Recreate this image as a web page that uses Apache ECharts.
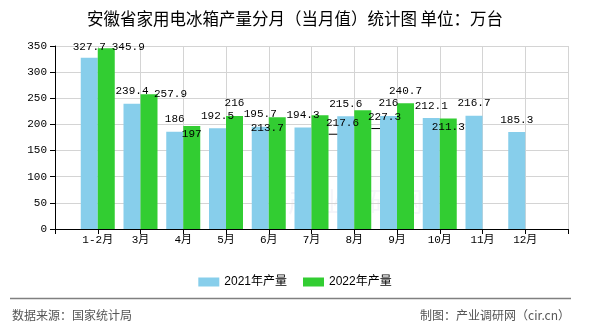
<!DOCTYPE html>
<html><head><meta charset="utf-8">
<script src="https://cdn.jsdelivr.net/npm/echarts@6/dist/echarts.min.js"></script>
<style>html,body{margin:0;padding:0;background:#fff}#c{width:590px;height:330px}</style>
</head><body><div id="c"></div>
<script>
// ---- data ----
const categories = ['', '1-2月', '3月', '4月', '5月', '6月', '7月', '8月', '9月', '10月', '11月', '12月', ''];
const values2021 = [null, 327.7, 239.4, 186, 192.5, 195.7, 194.3, 215.6, 216, 212.1, 216.7, 185.3, null];
const values2022 = [null, 345.9, 257.9, 197, 216, 213.7, 217.6, 227.3, 240.7, 211.3, null, null, null];
const seriesNames = ['2021年产量', '2022年产量'];
const yMin = 0, yMax = 350, yInterval = 50;
const titleText = '安徽省家用电冰箱产量分月（当月值）统计图 单位：万台';
const sourceText = '数据来源：国家统计局';
const creditText = '制图：产业调研网（cir.cn）';

// ---- label placement styles (pixel offsets from default "top" position) ----
const labelOffsets2021 = {1: [0, 2.4]};
const labelOffsets2022 = {1: [22, 11.6], 2: [21.5, 12.2], 3: [0, 20.7], 5: [-10, 23.4], 6: [22.5, 20.5], 7: [21.75, 19.9], 9: [0, 20.6]};
const guideLines2022 = {5: true, 6: true, 7: true};

const monoFont = "'Liberation Mono','Noto Sans CJK SC',monospace";
const cjkFont = "'Noto Sans CJK SC','Liberation Sans',sans-serif";

function buildData(values, offsets, guides) {
  return values.map((v, i) => {
    const item = {value: v};
    if (offsets && offsets[i]) item.label = {offset: offsets[i]};
    if (guides && guides[i]) item.labelLine = {show: true};
    return item;
  });
}

const chart = echarts.init(document.getElementById('c'), null, {renderer: 'canvas'});
const labelBase = {show: true, position: 'top', distance: 7, color: '#000', fontSize: 11, fontFamily: monoFont};

chart.setOption({
  animation: false,
  backgroundColor: '#fff',
  title: {
    text: titleText, left: 'center', top: 5,
    textStyle: {fontSize: 16.5, fontWeight: 'normal', color: '#000', fontFamily: cjkFont}
  },
  legend: {
    data: seriesNames, left: 'center', top: 271, icon: 'rect',
    itemWidth: 21, itemHeight: 9, itemGap: 16,
    textStyle: {fontSize: 12, color: '#000', fontFamily: "'Liberation Sans','Noto Sans CJK SC',sans-serif"}
  },
  grid: {left: 55, right: 22, top: 46, bottom: 101, containLabel: false},
  xAxis: {
    type: 'category', data: categories, boundaryGap: false,
    axisLine: {lineStyle: {color: '#000', width: 1}},
    axisTick: {show: true, length: 5, interval: 0, lineStyle: {color: '#000'}},
    axisLabel: {interval: 0, margin: 6, color: '#000', fontSize: 11, fontFamily: monoFont},
    splitLine: {show: true, interval: 0, lineStyle: {color: '#d4d4d4', width: 1}}
  },
  yAxis: {
    type: 'value', min: yMin, max: yMax, interval: yInterval,
    axisLine: {show: true, lineStyle: {color: '#000', width: 1}},
    axisTick: {show: true, length: 5, lineStyle: {color: '#000'}},
    axisLabel: {margin: 8, color: '#000', fontSize: 11, fontFamily: monoFont},
    splitLine: {show: true, lineStyle: {color: '#d4d4d4', width: 1}}
  },
  series: [
    {
      name: seriesNames[0], type: 'bar', barWidth: 17, barGap: '0%',
      itemStyle: {color: '#87CEEB'},
      label: labelBase,
      data: buildData(values2021, labelOffsets2021, null)
    },
    {
      name: seriesNames[1], type: 'bar', barWidth: 17, barGap: '0%',
      itemStyle: {color: '#32CD32'},
      label: labelBase,
      labelLine: {show: false, length2: 0, lineStyle: {color: '#000', width: 1}},
      data: buildData(values2022, labelOffsets2022, guideLines2022)
    }
  ],
  graphic: [
    {type: 'text', left: 288, top: 188, silent: true, z: -1,
     style: {text: '产业调研网', fontSize: 27, fontFamily: cjkFont, fill: 'rgba(200,200,225,0.18)'}},
    {type: 'line', shape: {x1: 10, y1: 298.5, x2: 571, y2: 298.5},
     style: {stroke: '#808080', lineWidth: 1.5}},
    {type: 'text', left: 12, top: 309,
     style: {text: sourceText, fontSize: 12, fontFamily: cjkFont, fill: '#555'}},
    {type: 'text', right: 20, top: 309,
     style: {text: creditText, fontSize: 12, fontFamily: cjkFont, fill: '#555'}}
  ]
});
</script>
</body></html>
